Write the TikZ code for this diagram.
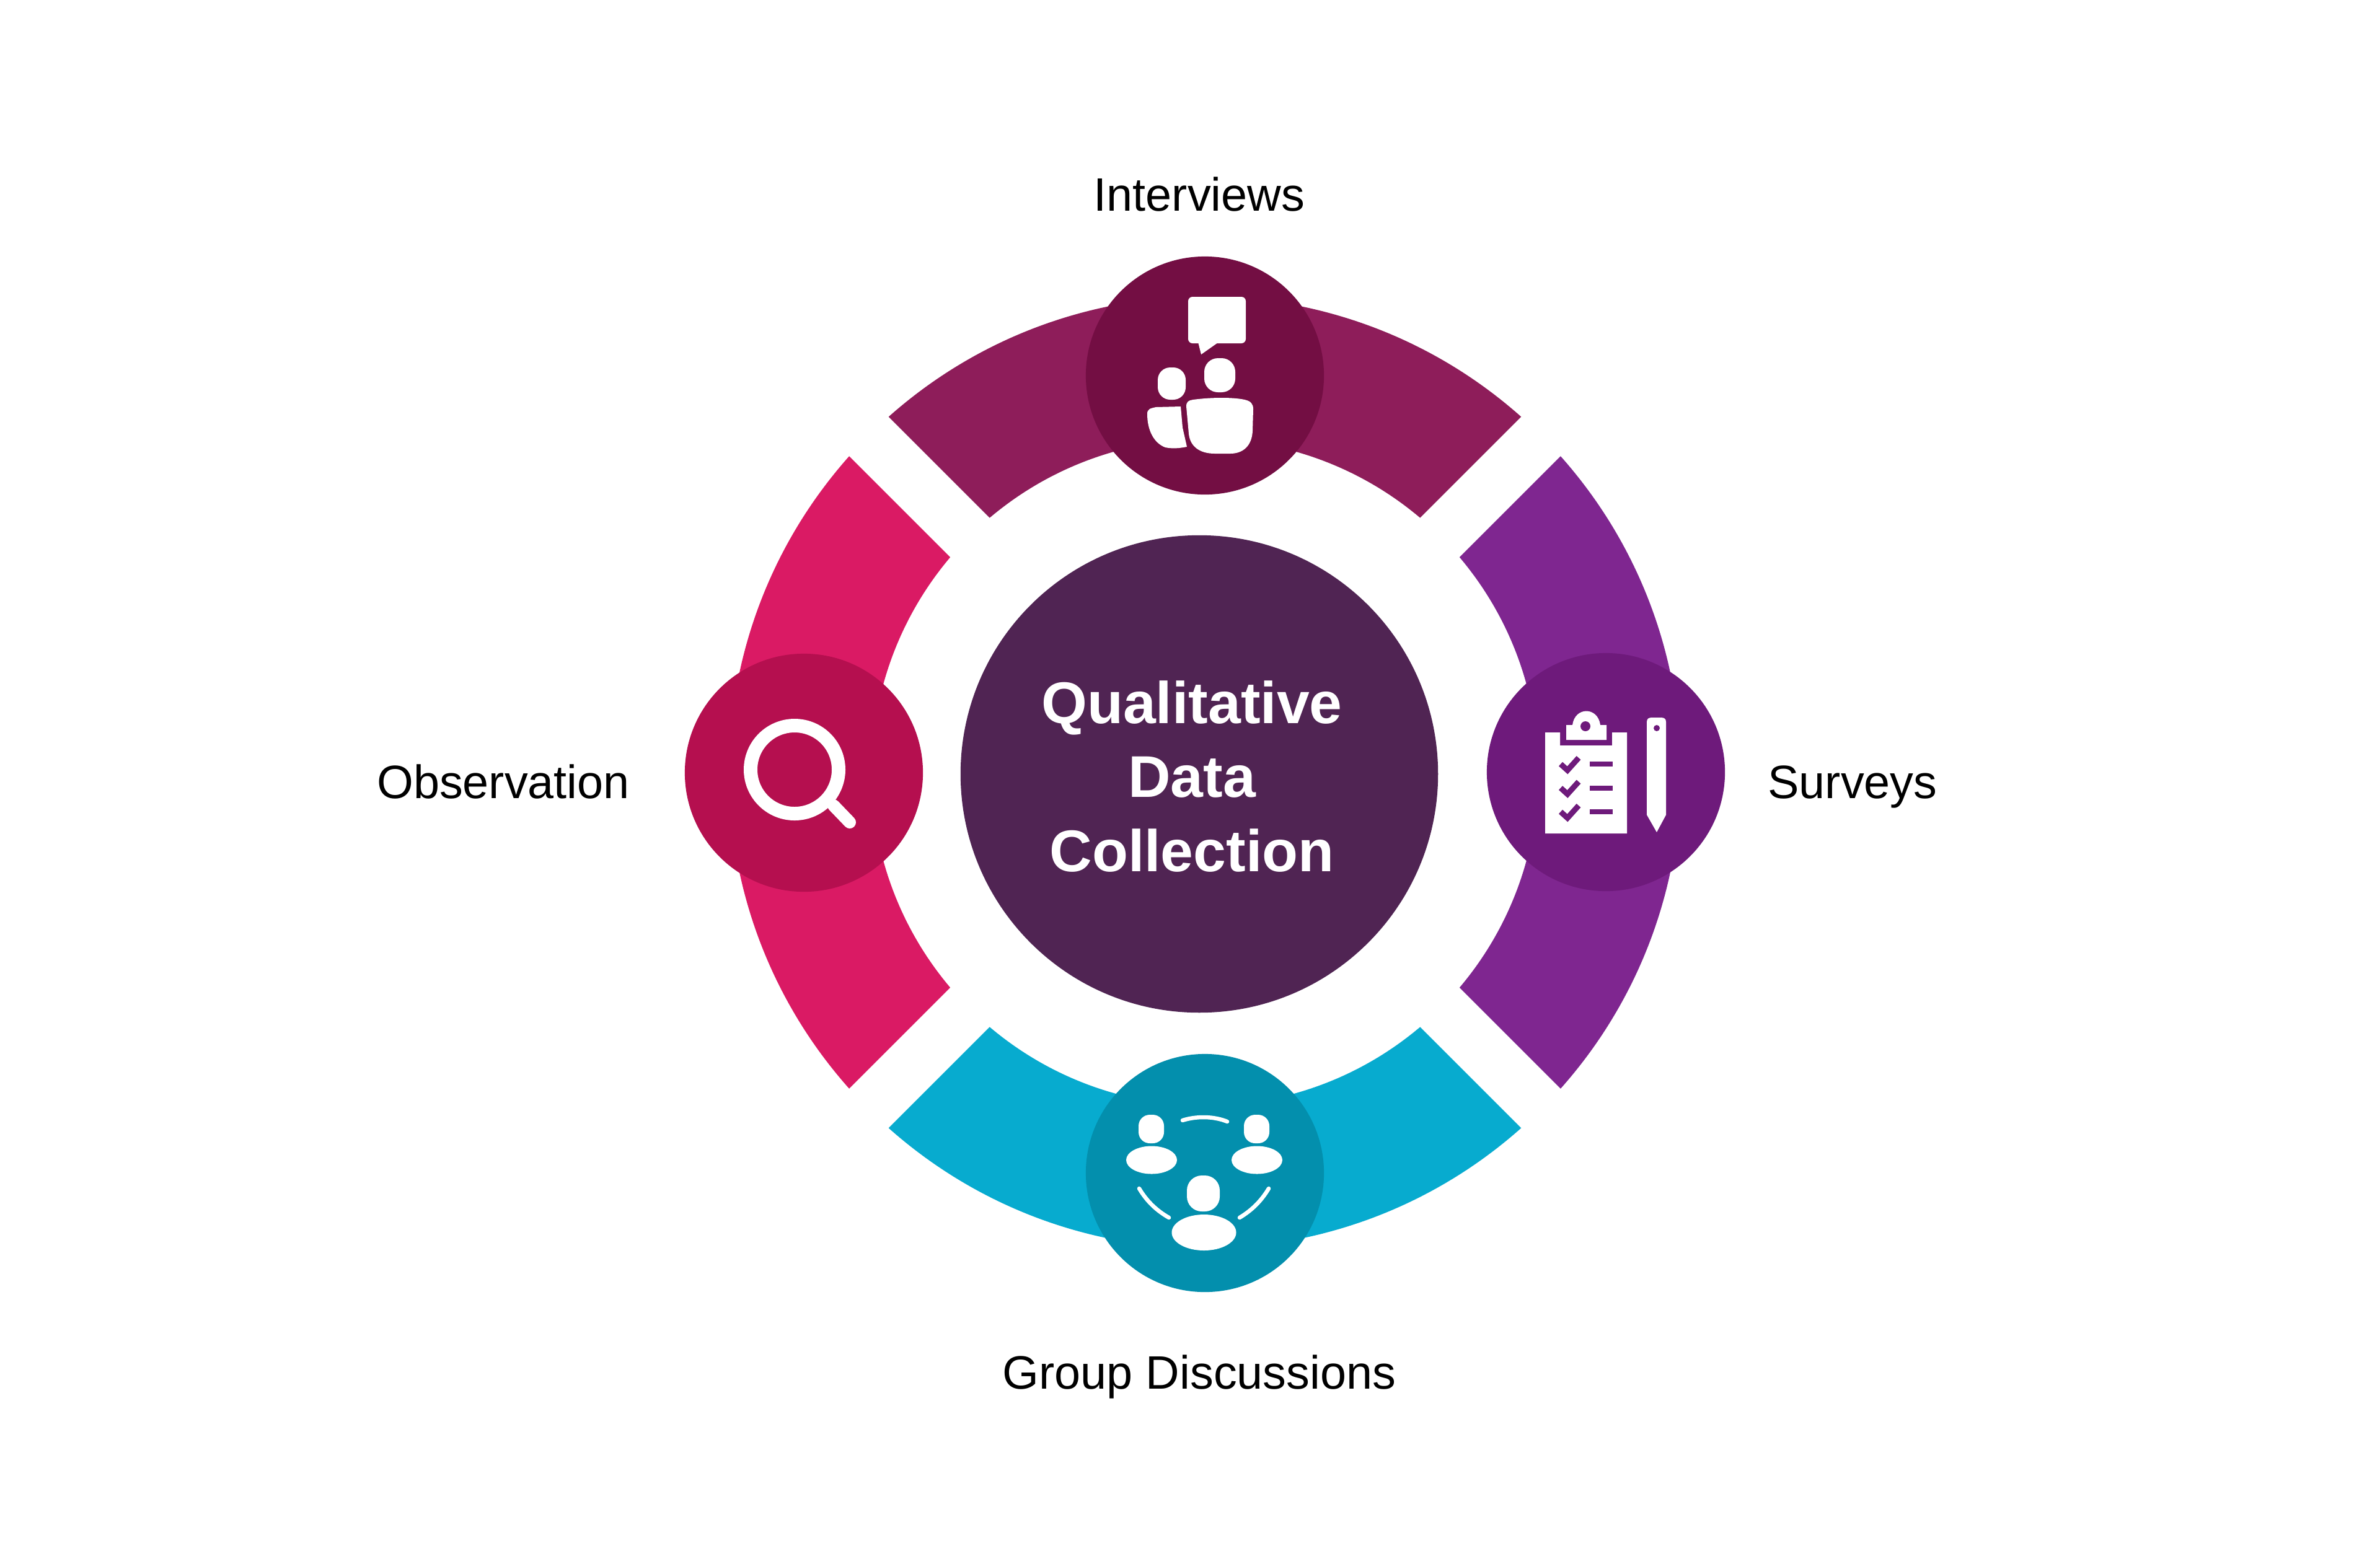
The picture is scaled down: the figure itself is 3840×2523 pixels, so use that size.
\documentclass[tikz,border=0pt]{standalone}
\usepackage{fontspec}
\setmainfont{Liberation Sans}
\definecolor{cTop}{HTML}{8E1D5A}
\definecolor{cTopD}{HTML}{730E43}
\definecolor{cRight}{HTML}{7F2690}
\definecolor{cRightD}{HTML}{6E1A7B}
\definecolor{cBot}{HTML}{07ABCF}
\definecolor{cBotD}{HTML}{038FAD}
\definecolor{cLeft}{HTML}{DA1A64}
\definecolor{cLeftD}{HTML}{B50F4F}
\definecolor{cCen}{HTML}{502453}
\tikzset{
  x=0.01cm,y=-0.01cm,
  badge/.style={circle,minimum size=3.84cm,inner sep=0pt,outer sep=0pt},
  lab/.style={font=\fontsize{21.5}{26}\selectfont,text=black,inner sep=0pt,anchor=base},
  ico/.style={fill=white,draw=none},
  icol/.style={draw=white,line cap=round,fill=none,line width=0.065cm}
}
\newcommand{\ringband}[2]{%
  \pgfmathsetmacro{\ao}{asin(45/768)}%
  \pgfmathsetmacro{\ai}{asin(45/538)}%
  \fill[#2] ({1944+768*cos(#1-45+\ao)},{1246.5-768*sin(#1-45+\ao)})
    arc[start angle=#1-45+\ao,end angle=#1+45-\ao,radius=768,y radius=-768]
    -- ({1944+538*cos(#1+45-\ai)},{1246.5-538*sin(#1+45-\ai)})
    arc[start angle=#1+45-\ai,end angle=#1-45+\ai,radius=538,y radius=-538]
    -- cycle;}
\begin{document}
\begin{tikzpicture}
\useasboundingbox (0,0) rectangle (3840,2523);
\fill[white] (0,0) rectangle (3840,2523);
\ringband{90}{cTop}
\ringband{0}{cRight}
\ringband{270}{cBot}
\ringband{180}{cLeft}
\node[badge,fill=cTopD] (top) at (1944,606) {};
\node[badge,fill=cRightD] (right) at (2591,1246) {};
\node[badge,fill=cBotD] (bot) at (1944,1893) {};
\node[badge,fill=cLeftD] (left) at (1297,1247) {};
\node[circle,minimum size=7.70cm,inner sep=0pt,fill=cCen] (cen) at (1935,1249) {};
\node[align=center,text=white,font=\fontsize{27}{33.9}\selectfont\bfseries,inner sep=0pt] (centxt) at (1923,1253) {Qualitative\\Data\\Collection};
\node[lab] (l1) at (1935,340) {Interviews};
\node[lab] (l2) at (2989,1288) {Surveys};
\node[lab] (l3) at (1935,2241) {Group Discussions};
\node[lab] (l4) at (812,1288) {Observation};
% interview icon
\fill[ico,rounded corners=0.07cm] (1917,479) rectangle (2010,554);
\fill[ico] (1932,548) -- (1938,572) -- (1972,548) -- cycle;
\fill[ico,rounded corners=0.22cm] (1943,578) rectangle (1993,633);
\fill[ico,rounded corners=0.2cm] (1868,593) rectangle (1913,645);
\fill[ico] (1914,656) .. controls (1914,648) and (1918,646) .. (1925,645) .. controls (1955,641) and (1990,641) .. (2008,645) .. controls (2018,647) and (2022,652) .. (2022,660) -- (2021,695) .. controls (2020,720) and (2005,732) .. (1985,732) -- (1960,732) .. controls (1935,732) and (1920,720) .. (1918,700) -- cycle;
\fill[ico] (1851,668) .. controls (1851,660) and (1856,659) .. (1865,657) -- (1905,656) -- (1908,690) -- (1915,721) .. controls (1900,724) and (1890,724) .. (1880,722) .. controls (1862,715) and (1851,695) .. (1851,668) -- cycle;
% survey icon
\fill[ico] (2493,1182) -- (2517,1182) -- (2517,1203) -- (2601,1203) -- (2601,1182) -- (2625,1182) -- (2625,1345) -- (2493,1345) -- cycle;
\fill[ico] (2527,1194) -- (2592,1194) -- (2592,1170) -- (2582,1170) .. controls (2578,1140) and (2541,1140) .. (2537,1170) -- (2527,1170) -- cycle;
\fill[cRightD] (2558,1172) circle[radius=8];
\foreach \yy in {1233,1271.5,1310}{
  \draw[cRightD,line width=0.09cm] (2518,\yy) -- (2529,\yy+10) -- (2547,\yy-10);
  \draw[cRightD,line width=0.08cm] (2565,\yy) -- (2602,\yy);
}
\fill[ico] (2657,1165) .. controls (2657,1160) and (2660,1158) .. (2665,1158) -- (2680,1158) .. controls (2685,1158) and (2688,1160) .. (2688,1165) -- (2688,1315) -- (2673,1343) -- (2657,1315) -- cycle;
\fill[cRightD] (2673,1175) circle[radius=5];
% discussion icons
\fill[ico,rounded corners=0.18cm] (1837,1799) rectangle (1878,1845);
\fill[ico] (1858,1872) ellipse[x radius=41,y radius=22.5];
\fill[ico,rounded corners=0.18cm] (2007,1799) rectangle (2048,1845);
\fill[ico] (2028,1872) ellipse[x radius=41,y radius=22.5];
\fill[ico,rounded corners=0.24cm] (1915,1897) rectangle (1968,1955);
\fill[ico] (1942.5,1989) ellipse[x radius=52,y radius=29];
\draw[icol] (1908,1808) .. controls (1930,1801) and (1958,1801) .. (1980,1810);
\draw[icol] (1838,1918) .. controls (1850,1938) and (1865,1953) .. (1886,1965);
\draw[icol] (2047,1918) .. controls (2035,1938) and (2020,1953) .. (2000,1965);
% magnifier
\draw[white,line width=0.22cm,fill=none] (1282,1242) circle[radius=71];
\draw[white,line width=0.2cm,line cap=round] (1345,1300) -- (1371,1327);
\end{tikzpicture}
\end{document}
